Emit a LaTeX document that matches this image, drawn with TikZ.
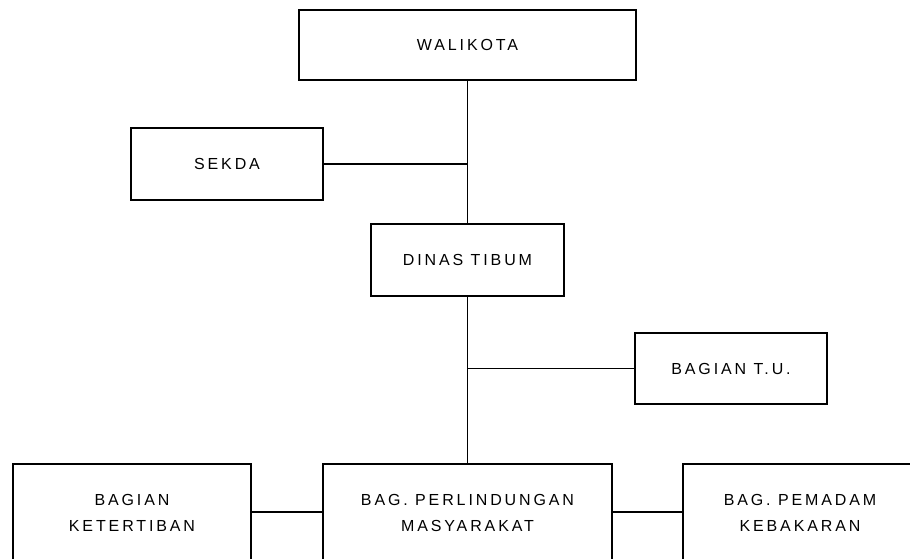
\documentclass[tikz,border=0pt]{standalone}
\usepackage{fontspec}
\newfontfamily\boxfont[LetterSpace=18]{Liberation Sans}
\begin{document}
\begin{tikzpicture}[x=1pt,y=-1pt,
  orgbox/.style={draw=black, line width=1.9pt, fill=white, align=center,
    inner sep=0pt, font=\boxfont\fontsize{16}{26.5}\selectfont, anchor=center},
  link/.style={draw=black, line width=1.9pt}]
\clip (0,0) rectangle (910,558);
\fill[white] (0,0) rectangle (910,558);
\node[orgbox, minimum width=337, minimum height=70] (wali) at (467.5,45) {WALIKOTA};
\node[orgbox, minimum width=192, minimum height=72] (sekda) at (227,164) {SEKDA};
\node[orgbox, minimum width=193, minimum height=72] (dinas) at (467.5,260) {DINAS TIBUM};
\node[orgbox, minimum width=192, minimum height=71] (tu) at (731,368.5) {BAGIAN T.U.};
\node[orgbox, minimum width=238, minimum height=98] (ket) at (132,513) {BAGIAN\\KETERTIBAN};
\node[orgbox, minimum width=289, minimum height=98] (perl) at (467.5,513) {BAG. PERLINDUNGAN\\MASYARAKAT};
\node[orgbox, minimum width=234, minimum height=98] (pem) at (800,513) {BAG. PEMADAM\\KEBAKARAN};
\coordinate (j1) at (sekda.east -| wali.south);
\coordinate (j2) at (tu.west -| dinas.south);
\draw[link] (wali.south) -- (dinas.north);
\draw[link] (sekda.east) -- (j1);
\draw[link] (dinas.south) -- (perl.north);
\draw[link] (tu.west) -- (j2);
\draw[link] (ket.east |- 0,512) -- (perl.west |- 0,512);
\draw[link] (perl.east |- 0,512) -- (pem.west |- 0,512);
\end{tikzpicture}
\end{document}
